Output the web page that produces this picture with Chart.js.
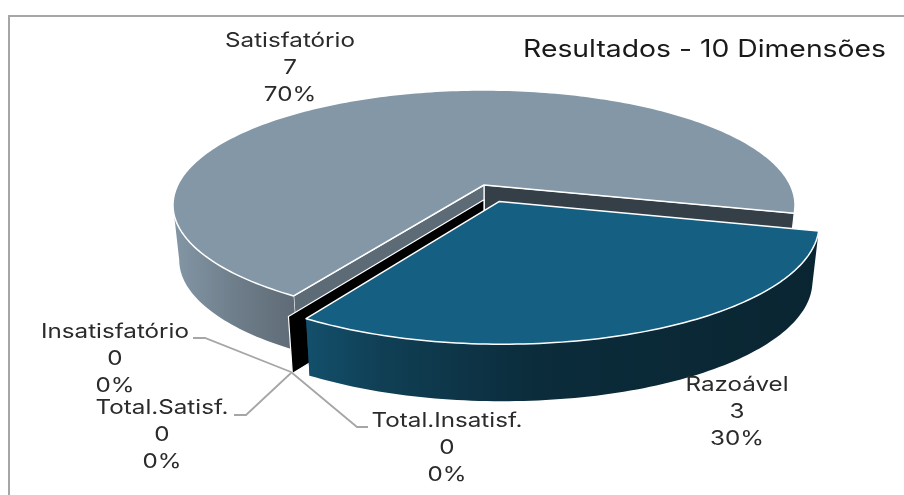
<!DOCTYPE html>
<html>
<head>
<meta charset="utf-8">
<style>html,body{margin:0;padding:0;background:#fff}canvas{display:block}</style>
<script src="https://cdn.jsdelivr.net/npm/chart.js@4"></script>
</head>
<body>
<canvas id="c" width="904" height="495"></canvas>
<script>
const categories = ["Satisfatório", "Razoável", "Insatisfatório", "Total.Satisf.", "Total.Insatisf."];
const values = [7, 3, 0, 0, 0];
const titleText = "Resultados - 10 Dimensões";

// Layout of the 3D projection
const V = {cx:484, cy:205, a:311, b:115, t:-0.174, depth:55, wedgeDepth:57, narrow:0.98};
const explodeWedge = 0.155;      // disk units
const wedgeNudgeU = -0.009;      // disk units
const zeroShift = [0, 0.13];     // disk units
const labelPos = [[290,41],[737,385],[115,332],[162,408],[447,421]];
const leaders = [null,null,
  [[193,338],[205,338],[291,372]],
  [[234,415],[246,415],[291,373]],
  [[291,372],[357,427],[368,427]]];
const labelStretch = 1.21, titleStretch = 1.18;

const s = Math.sqrt(1 - V.t*V.t);
function P(u,v,d){
  const w = 1 + V.t*v;
  return {
    x: V.cx + V.a*(d?V.narrow:1)*u*s/w,
    y: V.cy + V.b*(v+V.t)/w + (d||0)
  };
}
function rim(ang,ou,ov,d){ return P(Math.cos(ang)+ou, Math.sin(ang)+ov, d); }
function poly(ctx,pts){ ctx.beginPath(); pts.forEach((p,i)=> i?ctx.lineTo(p.x,p.y):ctx.moveTo(p.x,p.y)); ctx.closePath(); }
function arcPts(a0,a1,ou,ov,d){
  const n = Math.max(8,Math.ceil(Math.abs(a1-a0)/0.02)), r=[];
  for(let i=0;i<=n;i++) r.push(rim(a0+(a1-a0)*i/n,ou,ov,d));
  return r;
}
function fillStroke(ctx,pts,fill,lw){
  poly(ctx,pts); ctx.fillStyle=fill; ctx.fill();
  if(lw){ctx.strokeStyle='#fff';ctx.lineWidth=lw;ctx.lineJoin='round';ctx.stroke();}
}
function grad(ctx,x0,x1,stops){
  const g=ctx.createLinearGradient(x0,0,x1,0);
  stops.forEach(([o,c])=>g.addColorStop(o,c));
  return g;
}
function stretchedText(ctx,str,x,y,k){
  ctx.save();
  ctx.translate(x,y); ctx.scale(k,1);
  ctx.fillText(str,0,0);
  ctx.restore();
}

const pie3d = {
  id:'pie3d',
  beforeDraw(chart){
    const ctx=chart.ctx;
    ctx.save();
    ctx.strokeStyle='#a6a6a6'; ctx.lineWidth=2;
    ctx.beginPath(); ctx.moveTo(9,495); ctx.lineTo(9,16); ctx.lineTo(904,16); ctx.stroke();
    ctx.restore();
  },
  beforeDatasetsDraw(chart){
    const ctx=chart.ctx, arcs=chart.getDatasetMeta(0).data;
    const sat=arcs[0], raz=arcs[1], zero=arcs[2];
    const D=V.depth, W=V.wedgeDepth;
    ctx.save();
    // Satisfatório: inner walls
    const a0=sat.startAngle, a1=sat.endAngle;
    fillStroke(ctx,[P(0,0),rim(a1,0,0),rim(a1,0,0,D),P(0,0,D)],'#343f48',1.2);
    fillStroke(ctx,[P(0,0),rim(a0,0,0),rim(a0,0,0,D),P(0,0,D)],'#5d6b76',1.2);
    // Satisfatório: outer wall, up to the silhouette of the ellipse
    const wallEnd=Math.atan2(-V.t,-s);
    const wallEndN=wallEnd<a0?wallEnd+2*Math.PI:wallEnd;
    fillStroke(ctx,arcPts(a0,wallEndN,0,0).concat(arcPts(wallEndN,a0,0,0,D)),
      grad(ctx,175,293,[[0,'#8396a5'],[0.5,'#6f7e8b'],[1,'#5f6c77']]),0);
    // Satisfatório: top face
    fillStroke(ctx,[P(0,0)].concat(arcPts(a0,a1,0,0)),'#8497a6',1.5);
    // zero-value slices: a single wall
    const z=zero.startAngle, [zu,zv]=zeroShift;
    fillStroke(ctx,[P(zu,zv),rim(z,zu,zv),rim(z,zu,zv,W),P(zu,zv,W)],'#000',1.2);
    // Razoável
    const mid=(raz.startAngle+raz.endAngle)/2;
    const ou=Math.cos(mid)*explodeWedge+wedgeNudgeU, ov=Math.sin(mid)*explodeWedge;
    fillStroke(ctx,[P(ou,ov),rim(raz.endAngle,ou,ov),rim(raz.endAngle,ou,ov,W),P(ou,ov,W)],'#0f3d53',0);
    fillStroke(ctx,arcPts(raz.startAngle,raz.endAngle,ou,ov).concat(arcPts(raz.endAngle,raz.startAngle,ou,ov,W)),
      grad(ctx,305,815,[[0,'#13506c'],[0.15,'#103f55'],[0.45,'#0b2c3b'],[1,'#0a2532']]),0);
    fillStroke(ctx,[P(ou,ov)].concat(arcPts(raz.startAngle,raz.endAngle,ou,ov)),'#156082',1.5);
    ctx.restore();
    return false;
  },
  afterDraw(chart){
    const ctx=chart.ctx, total=values.reduce((x,y)=>x+y,0);
    ctx.save();
    ctx.strokeStyle='#a6a6a6'; ctx.lineWidth=1.8;
    leaders.forEach(l=>{ if(!l) return; ctx.beginPath(); l.forEach((p,i)=> i?ctx.lineTo(p[0],p[1]):ctx.moveTo(p[0],p[1])); ctx.stroke(); });
    ctx.font='20px Inter'; ctx.fillStyle='#2b2b2b'; ctx.textAlign='center'; ctx.textBaseline='middle';
    categories.forEach((c,i)=>{
      const [x,y]=labelPos[i];
      stretchedText(ctx,c,x,y,labelStretch);
      stretchedText(ctx,String(values[i]),x,y+27,labelStretch);
      stretchedText(ctx,Math.round(values[i]/total*100)+'%',x,y+54,labelStretch);
    });
    ctx.font='24px Inter'; ctx.fillStyle='#1a1a1a'; ctx.textAlign='right';
    stretchedText(ctx,titleText,886,50,titleStretch);
    ctx.restore();
  }
};

new Chart(document.getElementById('c'),{
  type:'pie',
  data:{labels:categories,datasets:[{data:values,backgroundColor:['#8497a6','#156082','#000','#000','#000']}]},
  plugins:[pie3d],
  options:{
    responsive:false,animation:false,rotation:212,
    plugins:{legend:{display:false},tooltip:{enabled:false},title:{display:false}}
  }
});
</script>
</body>
</html>
